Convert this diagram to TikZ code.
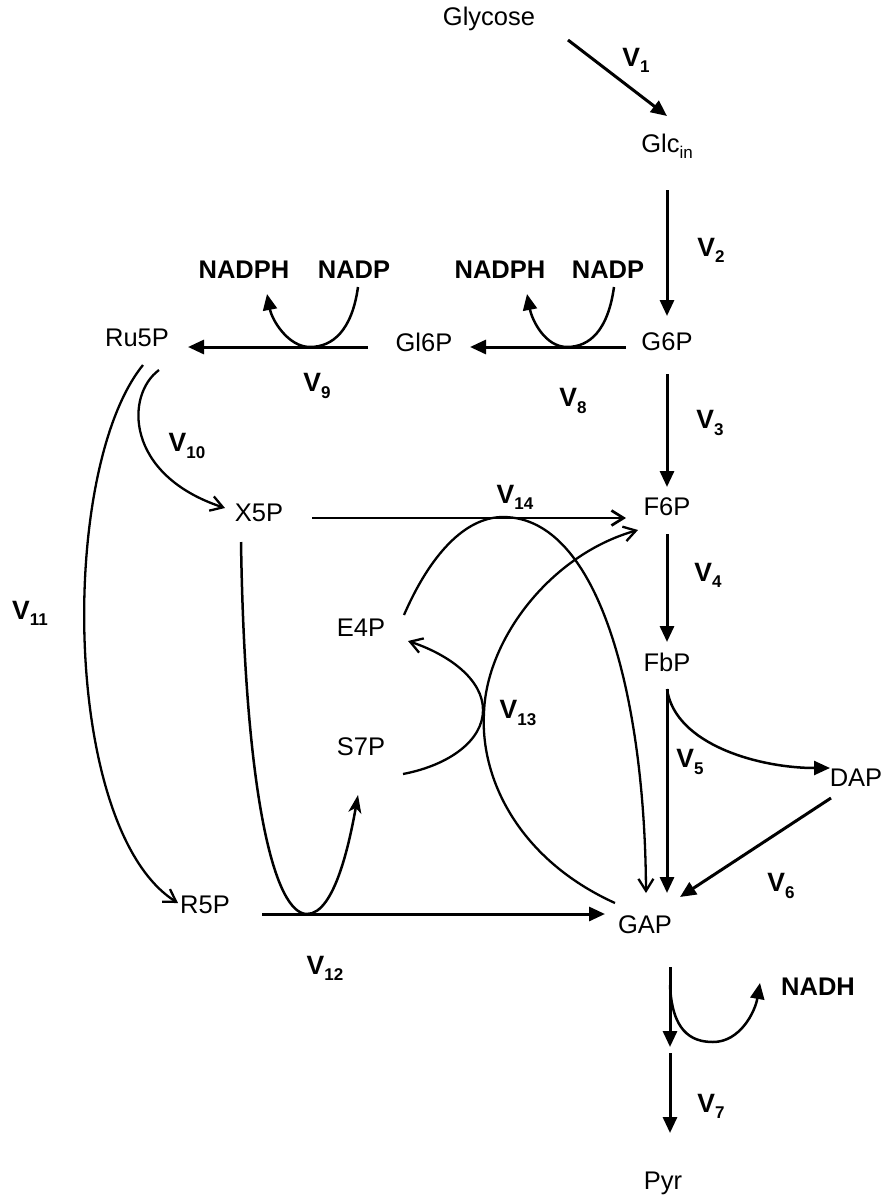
\documentclass[tikz,border=0pt]{standalone}
\usepackage{fontspec}
\setmainfont{Liberation Sans}
\usetikzlibrary{arrows.meta}

\newcommand{\lowsub}[1]{\raisebox{-0.24em}{\fontsize{17}{17}\selectfont #1}}
\newcommand{\vlab}[1]{{\fontsize{26.5}{30}\selectfont\textbf{V}}\lowsub{\bfseries #1}}

\begin{document}
\begin{tikzpicture}[
    x=1pt, y=-1pt,
    every node/.style={font=\fontsize{25.5}{29}\selectfont, inner sep=0pt},
    cof/.style={font=\fontsize{25.5}{29}\selectfont\bfseries},
    tri/.style={-{Triangle[length=16pt,width=14pt]}, line width=3pt},
    barb/.style={-{Straight Barb[length=12pt,width=15pt]}, line width=2.3pt},
    stl/.style={-{Stealth[length=18pt,width=13pt,inset=5pt]}, line width=2.5pt},
    curv/.style={line width=2.5pt}
]
\useasboundingbox (0,0) rectangle (883,1197);

% === Glycolysis column ===
\node (glycose) at (489,19) {Glycose};
\node (glc) at (667,146) {Glc\lowsub{in}};
\node (g6p) at (667,342) {G6P};
\node (f6p) at (667,507) {F6P};
\node (fbp) at (667,662) {FbP};
\node (dap) at (856,778) {DAP};
\node (gap) at (645,925) {GAP};
\node (pyr) at (663,1183) {Pyr};
\node[cof] (nadh) at (818,987) {NADH};

\draw[tri] ([xshift=79pt,yshift=-21pt]glycose.center) -- ([yshift=30pt]glc.center);
\draw[tri] ([yshift=-44pt]glc.center) -- ([yshift=26pt]g6p.center);
\draw[tri] ([yshift=-32pt]g6p.center) -- ([yshift=20pt]f6p.center);
\draw[tri] ([yshift=-27pt]f6p.center) -- ([yshift=20pt]fbp.center);

\coordinate (fbpo) at ([yshift=-27pt]fbp.center);
\draw[tri] (fbpo) -- ([xshift=22pt,yshift=32pt]gap.center);
\draw[tri, curv] (fbpo) .. controls (675,745) and (760,768) .. ([xshift=-26pt,yshift=10pt]dap.center);
\draw[tri] ([xshift=-25pt,yshift=-20pt]dap.center) -- ([xshift=35pt,yshift=28pt]gap.center);

\coordinate (v7m) at (670,1050);
\draw[tri] ([xshift=25pt,yshift=-42pt]gap.center) -- ([yshift=3pt]v7m);
\draw[tri] ([yshift=-3pt]v7m) -- ([xshift=7pt,yshift=50pt]pyr.center);
\coordinate (nadhb) at (713,1042);
\draw[tri, curv] ([xshift=25pt,yshift=-60pt]gap.center) .. controls (672,1030) and (690,1042) .. (nadhb)
    .. controls (740,1042) and (755,1012) .. ([xshift=-58pt,yshift=4pt]nadh.center);

% === Oxidative branch ===
\node (gl6p) at (424,342) {Gl6P};
\node (ru5p) at (137,338) {Ru5P};
\node[cof] (nadphr) at (500,270) {NADPH};
\node[cof] (nadpr) at (608,270) {NADP};
\node[cof] (nadphl) at (244,270) {NADPH};
\node[cof] (nadpl) at (354,270) {NADP};

\coordinate (v8b) at (567,347);
\coordinate (v9b) at (310,347);
\draw[tri] ([xshift=-41pt,yshift=-5pt]g6p.center) -- ([xshift=46pt,yshift=-5pt]gl6p.center);
\draw[tri, curv] ([xshift=6pt,yshift=-17pt]nadpr.center) .. controls (608,330) and (590,347) .. (v8b)
    .. controls (545,347) and (532,320) .. ([xshift=27pt,yshift=-24pt]nadphr.center);
\draw[tri] ([xshift=-56pt,yshift=-5pt]gl6p.center) -- ([xshift=51pt,yshift=-9pt]ru5p.center);
\draw[tri, curv] ([xshift=4pt,yshift=-17pt]nadpl.center) .. controls (352,330) and (333,347) .. (v9b)
    .. controls (288,347) and (272,320) .. ([xshift=23pt,yshift=-24pt]nadphl.center);

% === Non-oxidative branch ===
\node (x5p) at (259,513) {X5P};
\node (r5p) at (205,905) {R5P};
\node (e4p) at (361,628) {E4P};
\node (s7p) at (361,747) {S7P};

\draw[barb] ([xshift=22pt,yshift=-32pt]ru5p.center) .. controls (125,395) and (125,475) .. ([xshift=-34pt,yshift=5pt]x5p.center);
\draw[barb] ([xshift=6pt,yshift=-27pt]ru5p.center) .. controls (58,470) and (62,830) .. ([xshift=-27pt,yshift=2pt]r5p.center);

\coordinate (v12b) at (307,914);
\draw[tri] ([xshift=57pt,yshift=-9pt]r5p.center) -- ([xshift=-40pt,yshift=11pt]gap.center);
\draw[stl] ([xshift=-18pt,yshift=-29pt]x5p.center) .. controls (245,800) and (275,914) .. (v12b)
    .. controls (335,914) and (350,840) .. ([xshift=-3pt,yshift=-48pt]s7p.center);

\coordinate (v13r) at (483,710);
\coordinate (v13l) at (484,713);
\draw[barb] ([xshift=42pt,yshift=-27pt]s7p.center) .. controls (450,765) and (483,740) .. (v13r)
    .. controls (483,680) and (450,655) .. ([xshift=47pt,yshift=-13pt]e4p.center);
\draw[barb] ([xshift=-30pt,yshift=22pt]gap.center) .. controls (520,860) and (480,780) .. (v13l)
    .. controls (486,640) and (550,555) .. ([xshift=-29pt,yshift=-23pt]f6p.center);

\coordinate (v14t) at (503,517);
\draw[barb, line width=2.7pt] ([xshift=53pt,yshift=-5pt]x5p.center) -- ([xshift=-41pt,yshift=-11pt]f6p.center);
\draw[barb] ([xshift=43pt,yshift=13pt]e4p.center) .. controls (430,555) and (465,517) .. (v14t)
    .. controls (600,517) and (645,700) .. ([xshift=1pt,yshift=32pt]gap.center);

% === Rate labels ===
\node (v1) at (636,60) {\vlab{1}};
\node (v2) at (711,250) {\vlab{2}};
\node (v3) at (710,423) {\vlab{3}};
\node (v4) at (708,575) {\vlab{4}};
\node (v5) at (690,762) {\vlab{5}};
\node (v6) at (781,886) {\vlab{6}};
\node (v7) at (711,1106) {\vlab{7}};
\node (v8) at (573,401) {\vlab{8}};
\node (v9) at (317,386) {\vlab{9}};
\node (v10) at (187,446) {\vlab{10}};
\node (v11) at (30,613) {\vlab{11}};
\node (v12) at (325,968) {\vlab{12}};
\node (v13) at (518,713) {\vlab{13}};
\node (v14) at (515,497) {\vlab{14}};

\end{tikzpicture}
\end{document}
